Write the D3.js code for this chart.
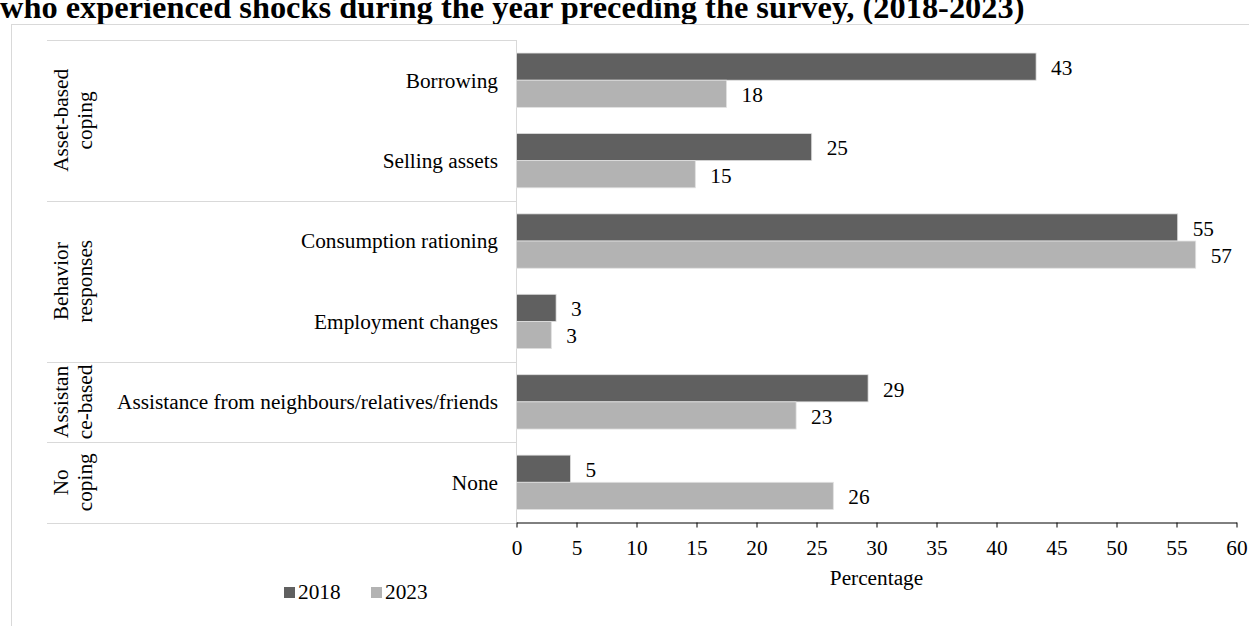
<!DOCTYPE html>
<html>
<head>
<meta charset="utf-8">
<script src="https://cdn.jsdelivr.net/npm/d3@7"></script>
<style>
  html, body { margin: 0; padding: 0; background: #fff; overflow: hidden; }
  svg { display: block; }
  text { font-family: "Liberation Serif", "Times New Roman", serif; fill: #000; }
</style>
</head>
<body>
<svg id="chart" width="1249" height="626"></svg>
<script>
// Coping strategies, grouped by type of response
const groups = ["Asset-based coping", "Behavior responses", "Assistance-based", "No coping"];
const groupLines = [["Asset-based", "coping"], ["Behavior", "responses"], ["Assistan", "ce-based"], ["No", "coping"]];
const categories = ["Borrowing", "Selling assets", "Consumption rationing", "Employment changes",
                    "Assistance from neighbours/relatives/friends", "None"];
const categoryGroup = [0, 0, 1, 1, 2, 3];
const years = ["2018", "2023"];
const values2018 = [43.3, 24.6, 55.1, 3.3, 29.3, 4.5];
const values2023 = [17.5, 14.9, 56.6, 2.9, 23.3, 26.4];
const xTicks = [0, 5, 10, 15, 20, 25, 30, 35, 40, 45, 50, 55, 60];
const colors = ["#606060", "#b3b3b3"];

const svg = d3.select("#chart");
const FONT = 21.3;

// Title (lower part of the figure caption)
svg.append("text")
  .attr("x", 0).attr("y", 18)
  .style("font-weight", "bold").style("font-size", "32.4px")
  .text("who experienced shocks during the year preceding the survey, (2018-2023)");

// Outer chart frame
svg.append("rect")
  .attr("x", 11.5).attr("y", 24.5).attr("width", 1260).attr("height", 640)
  .attr("fill", "none").attr("stroke", "#d9d9d9");

const x = d3.scaleLinear().domain([0, 60]).range([516.5, 1236.5]);
const y = d3.scaleBand().domain(categories).range([40, 522.5]).padding(0);
const inner = d3.scaleBand().domain(years).range([0, y.bandwidth()]).paddingOuter(0.48).paddingInner(0);

// Category table: separators between groups
const tableLeft = 47;
const boundaries = [40];
groups.forEach((g, gi) => {
  const last = categories.filter((c, i) => categoryGroup[i] === gi).pop();
  boundaries.push(y(last) + y.bandwidth());
});
svg.append("g").selectAll("line").data(boundaries).join("line")
  .attr("x1", tableLeft).attr("x2", x(0))
  .attr("y1", d => Math.round(d) + 0.5).attr("y2", d => Math.round(d) + 0.5)
  .attr("stroke", "#d9d9d9");

// Vertical axis line
svg.append("line")
  .attr("x1", x(0)).attr("x2", x(0)).attr("y1", 40).attr("y2", 522.5)
  .attr("stroke", "#d9d9d9");

// Group labels (rotated, two lines)
groups.forEach((g, gi) => {
  const cy = (boundaries[gi] + boundaries[gi + 1]) / 2;
  const t = svg.append("text")
    .attr("transform", `translate(75,${cy}) rotate(-90)`)
    .attr("text-anchor", "middle")
    .style("font-size", FONT + "px");
  groupLines[gi].forEach((line, li) => {
    t.append("tspan").attr("x", 0).attr("y", li === 0 ? -7 : 17).text(line);
  });
});

// Category labels
svg.append("g").selectAll("text").data(categories).join("text")
  .attr("x", 498).attr("y", d => y(d) + y.bandwidth() / 2)
  .attr("dy", "0.35em").attr("text-anchor", "end")
  .style("font-size", FONT + "px")
  .text(d => d);

// Bars with value labels
const series = [values2018, values2023];
const fmt = d3.format(".0f");
series.forEach((vals, si) => {
  const g = svg.append("g");
  g.selectAll("rect").data(vals).join("rect")
    .attr("x", x(0))
    .attr("y", (d, i) => y(categories[i]) + inner(years[si]))
    .attr("width", d => x(d) - x(0))
    .attr("height", inner.bandwidth())
    .attr("fill", colors[si])
    .attr("stroke", "#e0e0e0").attr("stroke-width", 0.8);
  g.selectAll("text").data(vals).join("text")
    .attr("x", d => x(d) + 15)
    .attr("y", (d, i) => y(categories[i]) + inner(years[si]) + inner.bandwidth() / 2 + 1)
    .attr("dy", "0.35em")
    .style("font-size", FONT + "px")
    .text(d => fmt(d));
});

// X axis
const axis = svg.append("g")
  .attr("transform", "translate(0,522.5)")
  .call(d3.axisBottom(x).tickValues(xTicks).tickSize(5).tickSizeOuter(0).tickPadding(12));
axis.select(".domain").attr("stroke", "#000");
axis.selectAll(".tick line").attr("stroke", "#000");
axis.selectAll(".tick text")
  .style("font-family", '"Liberation Serif", "Times New Roman", serif')
  .style("font-size", FONT + "px");

svg.append("text")
  .attr("x", (x(0) + x(60)) / 2).attr("y", 585)
  .attr("text-anchor", "middle").style("font-size", FONT + "px")
  .text("Percentage");

// Legend
const legend = svg.append("g").attr("transform", "translate(284,592)");
const legendX = [0, 87];
years.forEach((yr, i) => {
  legend.append("rect").attr("x", legendX[i]).attr("y", -5).attr("width", 11).attr("height", 11)
    .attr("fill", colors[i]);
  legend.append("text").attr("x", legendX[i] + 14).attr("y", 0).attr("dy", "0.35em")
    .style("font-size", FONT + "px").text(yr);
});
</script>
</body>
</html>
